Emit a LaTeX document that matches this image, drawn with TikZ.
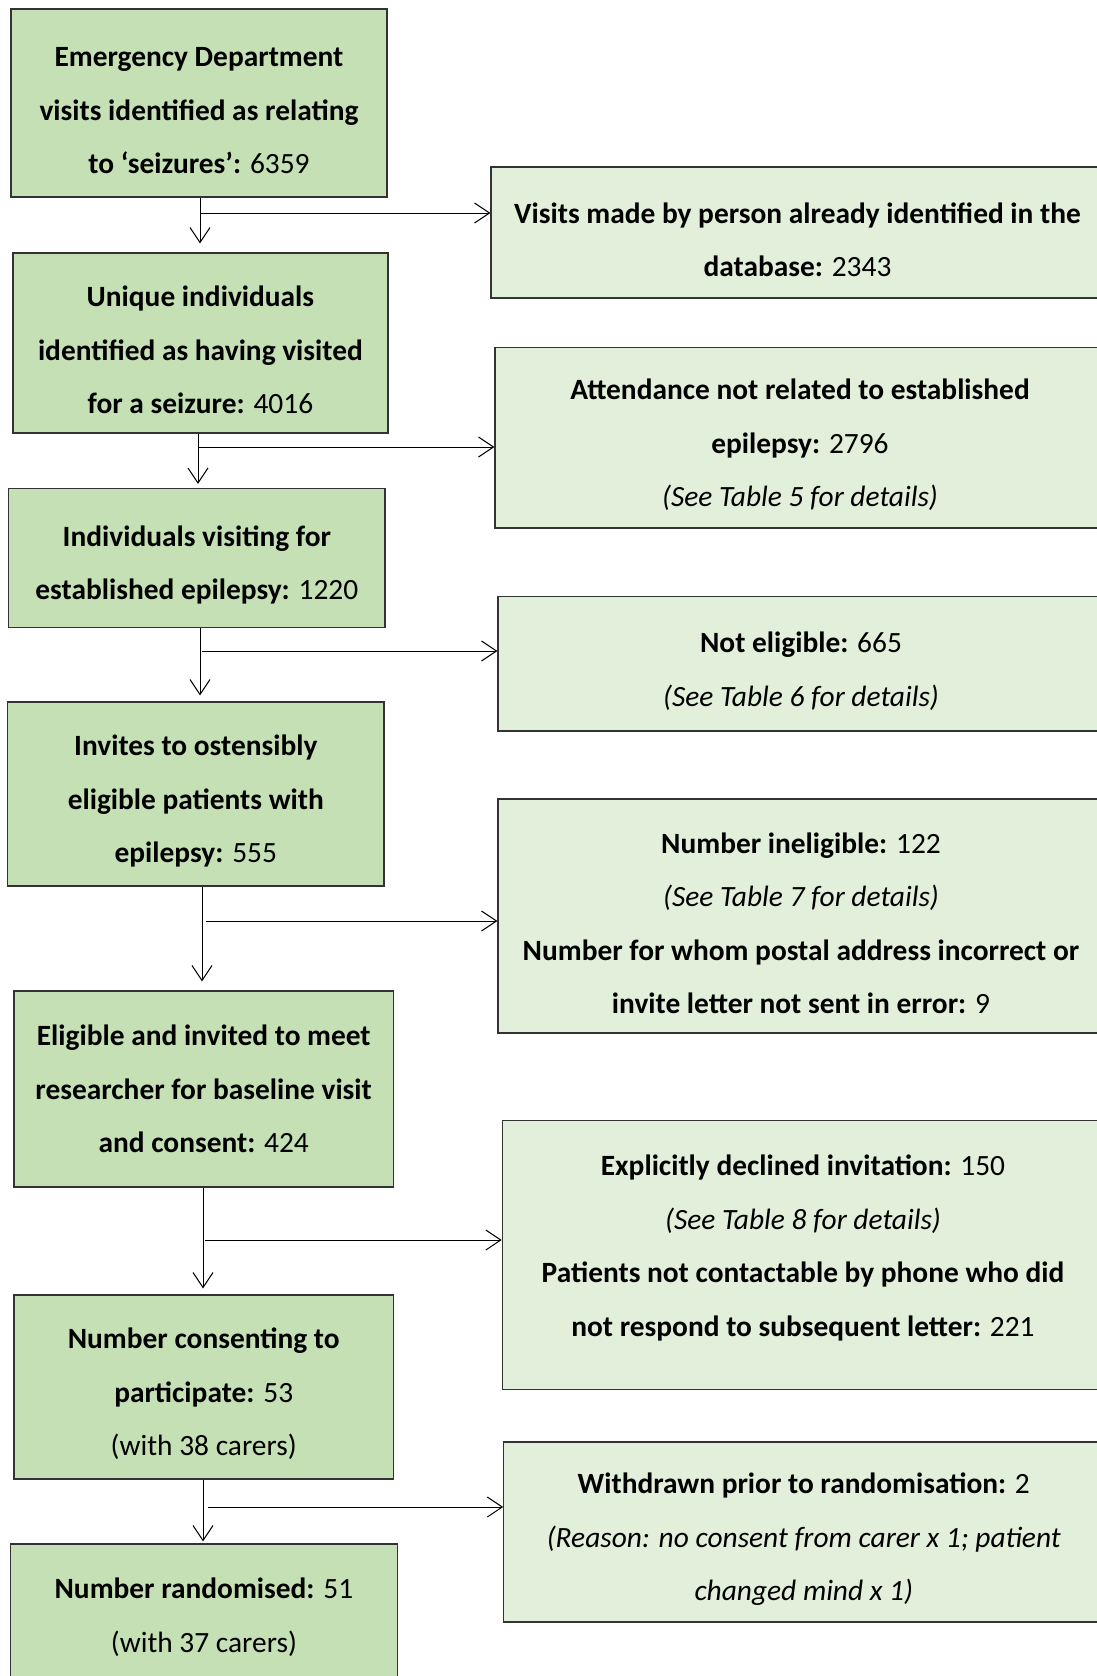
\documentclass[tikz,border=0pt]{standalone}
\usepackage{fontspec}
\setmainfont{Carlito}
\usepackage{tikz}
\usetikzlibrary{arrows.meta, positioning}
\definecolor{stagegreen}{HTML}{C5E0B4}
\definecolor{exitgreen}{HTML}{E2EFDA}
\tikzset{
	stagebox/.style={draw=black!80, line width=0.6pt, fill=stagegreen, align=center, inner sep=0pt, font=\fontsize{14.7}{26.75}\selectfont}
}
\tikzset{
	exitbox/.style={draw=black!80, line width=0.6pt, fill=exitgreen, align=center, inner sep=0pt, font=\fontsize{14.7}{26.75}\selectfont}
}
\tikzset{
	flow/.style={-{Straight Barb[length=7.5pt,width=10pt]}, line width=0.5pt}
}
\newcommand{\padtop}{\rule{0pt}{17.5pt}}
\newcommand{\padbottom}{\rule[-9.6pt]{0pt}{0pt}}

\begin{document}
\begin{tikzpicture}[x=0.5pt, y=-0.5pt]
      \useasboundingbox (0,0) rectangle (1097,1676);
      \clip (0,0) rectangle (1097,1676);
      % main stages, left column
      \node[stagebox, minimum width=188pt, minimum height=94pt] (edvisits) at (199,103)
        {\padtop\textbf{Emergency Department}\\ \textbf{visits identified as relating}\\ \textbf{to ‘seizures’:} 6359};
      \node[stagebox, minimum width=187.5pt, minimum height=90pt] (unique) at (200.4,343)
        {\padtop\textbf{Unique individuals}\\ \textbf{identified as having visited}\\ \textbf{for a seizure:} 4016};
      \node[stagebox, minimum width=188.2pt, minimum height=69.5pt] (established) at (196.8,558)
        {\padtop\textbf{Individuals visiting for}\\ \textbf{established epilepsy:} 1220};
      \node[stagebox, minimum width=188.2pt, minimum height=92pt] (invites) at (195.8,794)
        {\padtop\textbf{Invites to ostensibly}\\ \textbf{eligible patients with}\\ \textbf{epilepsy:} 555};
      \node[stagebox, minimum width=189.8pt, minimum height=98pt] (eligible) at (203.7,1089)
        {\textbf{Eligible and invited to meet}\\ \textbf{researcher for baseline visit}\\ \textbf{and consent:} 424};
      \node[stagebox, minimum width=189.8pt, minimum height=92pt] (consent) at (203.7,1387)
        {\padtop\textbf{Number consenting to}\\ \textbf{participate:} 53\\ (with 38 carers)};
      \node[stagebox, minimum width=193.2pt, minimum height=73pt] (random) at (203.9,1617)
        {\textbf{Number randomised:} 51\\ (with 37 carers)};
      % exclusions, right column
      \node[exitbox, minimum width=306.5pt, minimum height=65.5pt] (repeat) at (797.5,232.5)
        {\padtop\textbf{Visits made by person already identified in the}\\ \textbf{database:} 2343};
      \node[exitbox, minimum width=305pt, minimum height=90.25pt] (notrelated) at (800,437.8)
        {\padtop\textbf{Attendance not related to established}\\ \textbf{epilepsy:} 2796\\ \textit{(See Table 5 for details)}};
      \node[exitbox, minimum width=303pt, minimum height=67.2pt] (noteligible) at (801,663.8)
        {\padtop\textbf{Not eligible:} 665\\ \textit{(See Table 6 for details)}};
      \node[exitbox, minimum width=303pt, minimum height=117pt] (ineligible) at (801,916)
        {\padtop\textbf{Number ineligible:} 122\\ \textit{(See Table 7 for details)}\\ \textbf{Number for whom postal address incorrect or}\\ \textbf{invite letter not sent in error:} 9};
      \node[exitbox, minimum width=300.75pt, minimum height=134.75pt] (declined) at (803,1255)
        {\textbf{Explicitly declined invitation:} 150\\ \textit{(See Table 8 for details)}\\ \textbf{Patients not contactable by phone who did}\\ \textbf{not respond to subsequent letter:} 221\padbottom};
      \node[exitbox, minimum width=300pt, minimum height=90pt] (withdrawn) at (803.8,1532)
        {\padtop\textbf{Withdrawn prior to randomisation:} 2\\ \textit{(Reason: no consent from carer x 1; patient}\\ \textit{changed mind x 1)}};
      % branch points
      \coordinate (split1) at (200,213);
      \coordinate (split2) at (198,447);
      \coordinate (split3) at (200,651);
      \coordinate (split4) at (202,921);
      \coordinate (split5) at (203,1240);
      \coordinate (split6) at (203,1507);
      % down the left column
      \draw[flow, shorten >=4.5pt] (edvisits.south -| split1) -- (split1 |- unique.north);
      \draw[flow, shorten >=2pt] (unique.south -| split2) -- (split2 |- established.north);
      \draw[flow, shorten >=3pt] (established.south -| split3) -- (split3 |- invites.north);
      \draw[flow, shorten >=4.5pt] (invites.south -| split4) -- (split4 |- eligible.north);
      \draw[flow, shorten >=3pt] (eligible.south -| split5) -- (split5 |- consent.north);
      \draw[flow, shorten >=1pt] (consent.south -| split6) -- (split6 |- random.north);
      % out to the right
      \draw[flow] (split1) -- (split1 -| repeat.west);
      \draw[flow] (split2) -- (split2 -| notrelated.west);
      \draw[flow] ([xshift=1pt]split3) -- (split3 -| noteligible.west);
      \draw[flow] ([xshift=2pt]split4) -- (split4 -| ineligible.west);
      \draw[flow] ([xshift=1pt]split5) -- (split5 -| declined.west);
      \draw[flow] ([xshift=2.5pt]split6) -- (split6 -| withdrawn.west);
    \end{tikzpicture}
\end{document}
